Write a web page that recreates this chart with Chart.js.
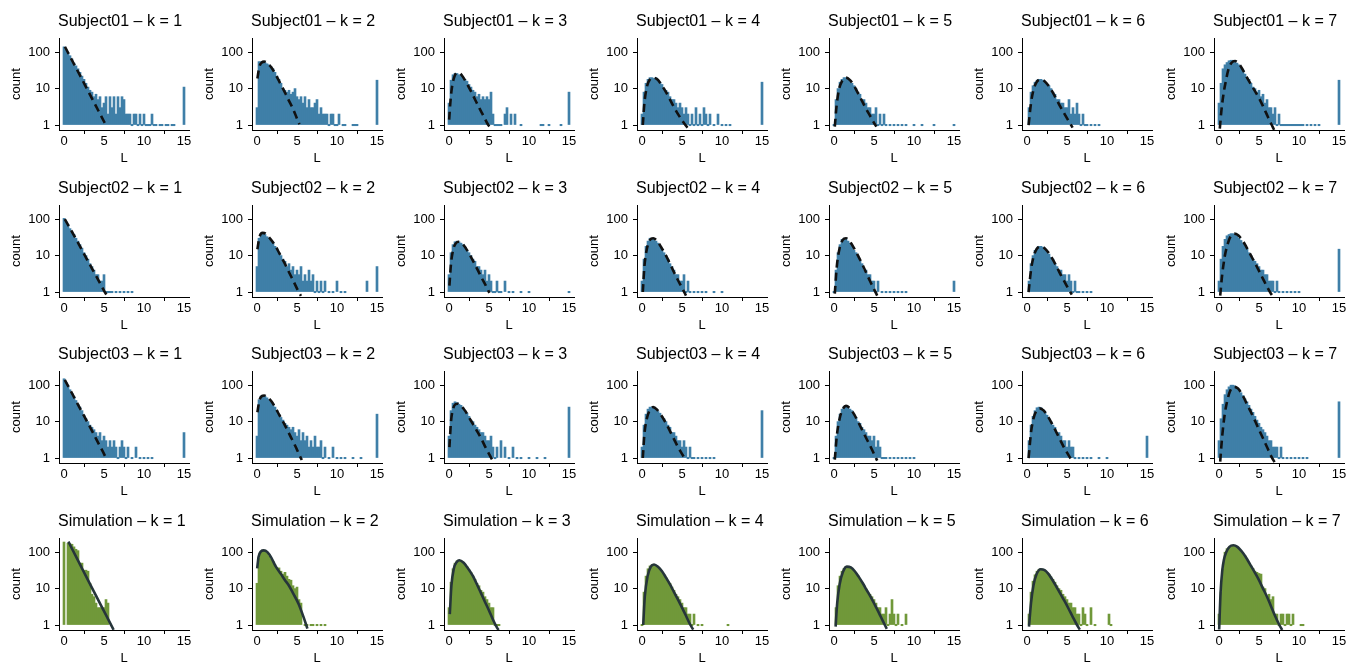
<!DOCTYPE html>
<html><head><meta charset="utf-8">
<script src="https://cdn.jsdelivr.net/npm/chart.js@4/dist/chart.umd.min.js"></script>
<style>
html,body{margin:0;padding:0;background:#fff;width:1348px;height:664px;overflow:hidden}
.panel{position:absolute;width:192px;height:166px}
.panel canvas{position:absolute;left:0;top:0}
.ttl{position:absolute;left:58px;top:12px;font:16px "Liberation Sans",Arial,sans-serif;color:#000;white-space:nowrap;line-height:18px}
</style></head><body>
<script>
// ---- data ----
const BINS = [0,0.25,0.5,0.75,1,1.25,1.5,1.75,2,2.25,2.5,2.75,3,3.25,3.5,3.75,4,4.25,4.5,4.75,5,5.25,5.5,5.75,6,6.25,6.5,6.75,7,7.25,7.5,7.75,8,8.25,8.5,8.75,9,9.25,9.5,9.75,10,10.25,10.5,10.75,11,11.25,11.5,11.75,12,12.25,12.5,12.75,13,13.25,13.5,13.75,14,14.25,14.5,14.75,15];
const X_TICKS = [0,5,10,15];
const Y_TICKS = [1,10,100];
const ROW_NAMES = ['Subject01','Subject02','Subject03','Simulation'];
const K_VALUES = [1,2,3,4,5,6,7];

const s01_k1 = [140,115,95,80, 65,50,42,35, 28,22,18,14, 11,9,8,6, 7,5,6,3, 4,6,2,6, 3,6,2,6, 3,6,5,2, 2,2,1,2, 2,1,2,1, 2,1,1,1, 2,1,1,0, 1,1,0,1, 1,0,1,1, 0,0,0,0, 11];
const s01_k2 = [3,55,55,55, 52,48,45,40, 35,28,22,18, 14,10,9,8, 9,7,8,10, 6,5,6,4, 6,3,5,3, 3,4,5,2, 3,2,2,2, 1,2,2,1, 1,2,0,1, 1,0,0,0, 1,1,1,0, 0,0,0,0, 0,0,0,0, 17];
const s01_k3 = [4,17,24,26, 26,24,24,20, 18,16,13,11, 9,8,6,7, 5,6,5,6, 5,8,2,1, 1,1,1,0, 2,3,0,2, 0,2,0,0, 1,0,0,0, 0,0,0,0, 0,0,1,1, 0,0,1,0, 0,0,0,0, 1,0,0,0, 8];
const s01_k4 = [2,8,14,18, 20,20,19,20, 17,15,13,10, 9,8,6,5, 5,4,3,4, 3,2,3,2, 1,2,1,3, 1,2,1,3, 2,1,2,0, 1,0,2,0, 1,0,1,0, 1,0,0,0, 0,0,0,0, 0,0,0,0, 0,0,0,0, 15];
const s01_k5 = [1,5,10,15, 18,20,20,18, 16,14,12,10, 8,7,5,5, 4,3,3,2, 2,3,1,2, 1,2,1,0, 1,0,1,0, 1,0,1,0, 1,0,0,0, 1,0,0,0, 1,0,0,0, 0,0,1,0, 0,0,0,0, 0,0,0,0, 1];
const s01_k6 = [0,3,8,12, 15,17,18,18, 17,15,13,12, 10,8,7,5, 5,4,4,3, 3,5,2,3, 2,4,2,1, 2,1,1,0, 1,0,1,0, 1,0,0,0, 0,0,0,0, 0,0,0,0, 0,0,0,0, 0,0,0,0, 0,0,0,0, 0];
const s01_k7 = [4,14,35,45, 52,58,60,60, 55,50,45,38, 32,25,20,18, 14,11,10,8, 9,6,7,4, 5,3,3,2, 3,1,2,1, 1,1,1,1, 1,1,1,1, 1,1,1,0, 1,0,1,0, 1,0,1,0, 0,0,0,0, 0,0,0,0, 17];

const s02_k1 = [105,85,70,55, 45,38,30,25, 20,16,12,10, 8,6,5,4, 3,3,2,2, 3,1,1,1, 1,0,1,0, 1,0,1,0, 1,0,1,0, 0,0,0,0, 0,0,0,0, 0,0,0,0, 0,0,0,0, 0,0,0,0, 0,0,0,0, 0];
const s02_k2 = [5,30,40,40, 38,33,30,25, 22,18,15,12, 10,8,7,5, 6,4,5,3, 4,3,5,2, 3,2,4,2, 3,1,2,1, 2,1,2,0, 1,0,1,0, 2,0,1,0, 1,0,0,0, 0,0,0,0, 0,0,0,2, 0,0,0,0, 5];
const s02_k3 = [3,12,20,24, 25,24,22,20, 17,14,12,10, 8,7,5,5, 4,3,4,2, 3,2,1,1, 2,1,1,0, 2,0,1,0, 1,0,0,0, 1,0,0,0, 1,0,0,0, 0,0,0,0, 0,0,0,0, 0,0,0,0, 0,0,0,0, 1];
const s02_k4 = [2,8,18,25, 30,30,28,25, 22,18,15,12, 10,8,6,5, 4,3,3,2, 2,3,1,2, 1,0,1,0, 1,0,1,0, 1,0,0,0, 1,0,0,0, 1,0,0,0, 0,0,0,0, 0,0,0,0, 0,0,0,0, 0,0,0,0, 0];
const s02_k5 = [1,4,12,20, 28,30,30,25, 22,18,14,12, 9,7,6,4, 4,3,3,2, 2,1,2,0, 1,0,1,0, 1,0,1,0, 1,0,1,0, 1,0,0,0, 0,0,0,0, 0,0,0,0, 0,0,0,0, 0,0,0,0, 0,0,0,0, 2];
const s02_k6 = [0,2,6,10, 14,16,18,18, 17,15,13,11, 9,8,6,5, 4,4,3,3, 2,3,2,1, 2,1,1,0, 1,0,1,0, 1,0,0,0, 0,0,0,0, 0,0,0,0, 0,0,0,0, 0,0,0,0, 0,0,0,0, 0,0,0,0, 0];
const s02_k7 = [2,8,18,28, 35,38,40,40, 38,35,30,26, 22,18,15,12, 10,8,7,6, 5,4,4,3, 3,2,2,2, 1,2,1,0, 1,0,1,0, 1,0,1,0, 1,0,0,0, 0,0,0,0, 0,0,0,0, 0,0,0,0, 0,0,0,0, 15];

const s03_k1 = [150,120,95,75, 60,48,38,30, 25,20,15,12, 10,8,7,6, 5,4,5,3, 4,3,2,3, 2,3,2,1, 2,3,2,1, 2,0,1,0, 2,0,1,0, 1,0,1,0, 1,0,0,0, 0,0,0,0, 0,0,0,0, 0,0,0,0, 5];
const s03_k2 = [4,40,50,52, 50,45,40,35, 30,25,20,16, 13,11,9,8, 7,6,7,5, 4,6,3,5, 3,4,2,3, 2,4,2,2, 3,1,2,0, 1,0,2,0, 1,0,1,0, 1,0,0,0, 1,0,0,0, 1,0,0,0, 0,0,0,0, 16];
const s03_k3 = [4,20,32,35, 33,30,28,24, 20,17,14,11, 10,8,7,6, 5,5,4,3, 3,4,2,1, 2,0,3,0, 2,0,1,0, 2,0,1,0, 1,0,0,0, 1,0,0,0, 1,0,0,0, 1,0,0,0, 0,0,0,0, 0,0,0,0, 25];
const s03_k4 = [2,8,16,22, 25,25,24,22, 19,17,14,12, 10,8,7,5, 5,4,3,3, 2,3,2,1, 2,1,1,0, 1,0,1,0, 1,0,1,0, 1,0,0,0, 0,0,0,0, 0,0,0,0, 0,0,0,0, 0,0,0,0, 0,0,0,0, 20];
const s03_k5 = [1,4,10,16, 22,26,28,26, 22,20,16,13, 10,9,7,6, 5,4,4,3, 4,2,3,2, 1,1,1,0, 1,0,1,0, 1,0,1,0, 1,0,1,0, 1,0,0,0, 0,0,0,0, 0,0,0,0, 0,0,0,0, 0,0,0,0, 0];
const s03_k6 = [0,3,8,14, 20,24,25,24, 21,18,15,12, 10,8,7,5, 5,4,3,3, 2,3,2,2, 1,0,1,0, 1,0,1,0, 1,0,0,0, 1,0,0,0, 1,0,0,0, 0,0,0,0, 0,0,0,0, 0,0,0,0, 0,0,0,0, 4];
const s03_k7 = [3,12,30,55, 75,90,100,100, 95,85,75,62, 52,42,35,28, 22,18,14,11, 9,7,6,5, 4,3,3,2, 2,2,1,2, 1,0,1,0, 1,0,1,0, 1,0,1,0, 1,0,0,0, 0,0,0,0, 0,0,0,0, 0,0,0,0, 35];

const sim_k1 = [190,0,175,170, 165,140,120,110, 50,50,32,32, 30,14,7,6, 4,3,3,3, 3,5,4,0, 0,0,0,0, 0,0,0,0, 0,0,0,0, 0,0,0,0, 0,0,0,0, 0,0,0,0, 0,0,0,0, 0,0,0,0, 0,0,0,0, 0];
const sim_k2 = [14,70,105,110, 105,95,80,65, 55,45,37,37, 30,25,28,22, 18,17,12,10, 11,5,4,0, 1,1,0,1, 1,0,1,0, 1,0,1,0, 0,0,0,0, 0,0,0,0, 0,0,0,0, 0,0,0,0, 0,0,0,0, 0,0,0,0, 0];
const sim_k3 = [3,15,35,50, 58,60,58,52, 45,40,33,28, 22,18,14,12, 9,8,6,5, 4,3,3,1, 1,1,0,0, 0,0,0,0, 0,0,0,0, 0,0,0,0, 0,0,0,0, 0,0,0,0, 0,0,0,0, 0,0,0,0, 0,0,0,0, 0];
const sim_k4 = [1,8,22,35, 42,45,45,42, 38,33,28,24, 20,16,14,11, 9,7,6,5, 4,3,3,2, 2,1,2,0, 1,0,1,0, 0,0,0,0, 0,0,0,0, 0,0,0,1, 0,0,0,0, 0,0,0,0, 0,0,0,0, 0,0,0,0, 0];
const sim_k5 = [0,3,12,22, 30,36,40,40, 38,35,30,26, 22,18,15,12, 10,8,7,6, 5,4,3,3, 2,2,3,1, 2,5,2,1, 2,0,1,0, 2,0,0,0, 0,0,0,0, 0,0,0,0, 0,0,0,0, 0,0,0,0, 0,0,0,0, 0];
const sim_k6 = [0,2,8,16, 24,30,34,35, 34,32,28,25, 21,18,15,12, 10,9,7,6, 5,4,4,3, 3,2,2,1, 3,2,1,0, 3,0,1,0, 0,0,0,0, 0,2,1,0, 0,0,0,0, 0,0,0,0, 0,0,0,0, 0,0,0,0, 0];
const sim_k7 = [2,8,35,100, 125,135,140,150, 145,135,120,105, 90,80,60,50, 42,36,30,28, 26,25,11,10, 6,7,5,6, 2,2,1,2, 2,1,2,2, 1,2,0,0, 0,1,1,0, 0,0,0,0, 0,0,0,0, 0,0,0,0, 0,0,0,0, 0];

// fitted density curves, [L, count]
const fit_s01_k1 = [[0.12,141],[1,60],[2,23],[3,8.7],[4,3.3],[5,1.25],[5.3,0.93]];
const fit_s01_k2 = [[0.05,19],[0.3,40],[0.6,52],[0.9,55],[1.3,50],[1.8,38],[2.3,25],[2.7,17],[3.2,10.5],[3.6,7],[4,4.6],[4.5,2.8],[5,1.5],[5.3,1.05]];
const fit_s01_k3 = [[0.02,1.4],[0.2,5],[0.4,12],[0.7,22],[1,27],[1.4,26],[1.8,20],[2.3,13],[2.8,8],[3.3,4.8],[3.8,2.9],[4.3,1.8],[4.8,1.1],[5.05,0.9]];
const fit_s01_k4 = [[0.1,1],[0.3,4],[0.6,11],[1,18],[1.4,20],[1.9,18],[2.4,13],[3,8],[3.5,5],[4,3.1],[4.5,2],[5,1.35],[5.5,0.95],[5.8,0.78]];
const fit_s01_k5 = [[0.1,0.9],[0.3,3],[0.6,9],[1,16],[1.5,20],[2,17],[2.5,12],[3,7.5],[3.5,4.6],[4,2.8],[4.5,1.8],[5,1.15],[5.3,0.9]];
const fit_s01_k6 = [[0.2,1],[0.5,4],[0.8,9],[1.2,15],[1.7,18],[2.2,16],[2.7,12],[3.2,8],[3.7,5],[4.2,3.1],[4.7,2],[5.2,1.3],[5.7,0.85]];
const fit_s01_k7 = [[0.1,0.8],[0.3,2.5],[0.6,8],[0.9,18],[1.2,35],[1.6,52],[2,57],[2.5,48],[3,32],[3.5,20],[4,13],[4.5,8.5],[5,5.5],[5.5,3.3],[6,1.9],[6.5,1.1],[6.9,0.73]];

const fit_s02_k1 = [[0.1,100],[1,45],[2,18],[3,7],[4,2.8],[5,1.1],[5.3,0.85]];
const fit_s02_k2 = [[0.05,15],[0.3,32],[0.7,42],[1.1,40],[1.6,30],[2.2,20],[2.8,11.5],[3.4,6.5],[4,3.5],[4.6,1.9],[5.2,1.02],[5.5,0.78]];
const fit_s02_k3 = [[0.05,1.5],[0.25,6],[0.5,14],[0.8,21],[1.2,24],[1.6,22],[2.1,16],[2.6,10.5],[3.1,6.5],[3.6,4],[4.1,2.4],[4.6,1.5],[5.05,0.95]];
const fit_s02_k4 = [[0.1,1],[0.3,5],[0.6,15],[1,27],[1.4,30],[1.9,25],[2.4,17],[3,10],[3.5,6],[4,3.5],[4.5,2.1],[5,1.3],[5.5,0.8]];
const fit_s02_k5 = [[0.1,0.9],[0.35,5],[0.7,16],[1.1,27],[1.5,30],[2,24],[2.5,16],[3,10],[3.5,6],[4,3.5],[4.5,2],[5,1.2],[5.4,0.8]];
const fit_s02_k6 = [[0.2,1],[0.5,4],[0.8,9],[1.2,15],[1.7,18],[2.2,16],[2.7,12],[3.2,8],[3.7,5],[4.2,3],[4.7,1.9],[5.2,1.2],[5.6,0.85]];
const fit_s02_k7 = [[0.15,0.8],[0.4,3],[0.7,9],[1,18],[1.4,32],[1.9,40],[2.4,36],[3,25],[3.5,16],[4,10],[4.5,6.2],[5,3.8],[5.5,2.3],[6,1.4],[6.5,0.9],[6.8,0.73]];

const fit_s03_k1 = [[0.1,140],[1,60],[2,23],[3,9],[4,3.4],[5,1.3],[5.3,0.95]];
const fit_s03_k2 = [[0.05,18],[0.3,38],[0.6,50],[0.9,52],[1.3,47],[1.8,36],[2.3,24],[2.8,15],[3.3,9.5],[3.8,5.8],[4.3,3.5],[4.8,2.1],[5.3,1.2],[5.6,0.88]];
const fit_s03_k3 = [[0.05,2],[0.25,10],[0.5,22],[0.8,30],[1.1,31],[1.5,27],[2,20],[2.5,13],[3,8.5],[3.5,5.5],[4,3.5],[4.5,2.1],[5,1.3],[5.4,0.9]];
const fit_s03_k4 = [[0.1,1],[0.3,4.5],[0.6,12],[1,21],[1.4,25],[1.9,21],[2.4,15],[3,9],[3.5,5.5],[4,3.3],[4.5,2],[5,1.3],[5.5,0.85]];
const fit_s03_k5 = [[0.1,0.9],[0.35,4],[0.7,12],[1.1,22],[1.5,27],[2,23],[2.5,16],[3,10],[3.5,6],[4,3.6],[4.5,2.2],[5,1.3],[5.4,0.85]];
const fit_s03_k6 = [[0.2,1],[0.5,5],[0.8,12],[1.2,20],[1.6,23],[2.1,20],[2.6,14],[3.1,9],[3.6,5.5],[4.1,3.3],[4.6,2],[5.1,1.3],[5.6,0.85]];
const fit_s03_k7 = [[0.15,0.8],[0.4,4],[0.7,15],[1,35],[1.4,70],[1.9,90],[2.4,80],[3,50],[3.5,30],[4,18],[4.5,10.5],[5,6],[5.5,3.5],[6,2],[6.5,1.15],[7,0.73]];

const fit_sim_k1 = [[0.55,195],[2,46],[3,17],[4,6.4],[5,2.4],[6.2,0.74]];
const fit_sim_k2 = [[0.02,36],[0.2,75],[0.5,105],[0.85,112],[1.3,100],[1.8,70],[2.3,42],[3,25],[3.5,17],[4,12],[4.5,7.5],[5.2,3.8],[5.8,1.7],[6.3,0.8]];
const fit_sim_k3 = [[0.1,2],[0.3,12],[0.6,35],[1,55],[1.3,60],[1.8,52],[2.3,38],[3,22],[3.5,13],[4,7.5],[4.5,4.3],[5,2.5],[5.5,1.4],[6,0.85],[6.2,0.73]];
const fit_sim_k4 = [[0.15,1],[0.35,6],[0.7,22],[1.1,40],[1.5,46],[2,40],[2.5,30],[3,20],[3.5,13],[4,8],[4.5,5],[5,3],[5.5,1.8],[6,1.05],[6.4,0.75]];
const fit_sim_k5 = [[0.2,0.9],[0.4,4],[0.7,13],[1.1,28],[1.6,40],[2.1,38],[2.6,30],[3.1,21],[3.6,14],[4.1,9],[4.6,5.8],[5.1,3.6],[5.6,2.2],[6.1,1.3],[6.6,0.78]];
const fit_sim_k6 = [[0.25,0.9],[0.5,4],[0.8,12],[1.2,25],[1.7,34],[2.2,32],[2.7,25],[3.2,17],[3.7,11],[4.2,7],[4.7,4.5],[5.2,2.8],[5.7,1.7],[6.2,1.05],[6.6,0.75]];
const fit_sim_k7 = [[0.02,0.75],[0.2,8],[0.4,30],[0.6,60],[0.9,100],[1.3,140],[1.8,155],[2.3,140],[3,95],[3.5,65],[4,42],[4.5,27],[5,17],[5.5,10],[6,6],[6.5,3.3],[7,1.8],[7.5,1.05],[7.9,0.73]];

// ---- tables built from the arrays ----
const COUNTS = [
  [s01_k1,s01_k2,s01_k3,s01_k4,s01_k5,s01_k6,s01_k7],
  [s02_k1,s02_k2,s02_k3,s02_k4,s02_k5,s02_k6,s02_k7],
  [s03_k1,s03_k2,s03_k3,s03_k4,s03_k5,s03_k6,s03_k7],
  [sim_k1,sim_k2,sim_k3,sim_k4,sim_k5,sim_k6,sim_k7]
];
const FITS = [
  [fit_s01_k1,fit_s01_k2,fit_s01_k3,fit_s01_k4,fit_s01_k5,fit_s01_k6,fit_s01_k7],
  [fit_s02_k1,fit_s02_k2,fit_s02_k3,fit_s02_k4,fit_s02_k5,fit_s02_k6,fit_s02_k7],
  [fit_s03_k1,fit_s03_k2,fit_s03_k3,fit_s03_k4,fit_s03_k5,fit_s03_k6,fit_s03_k7],
  [fit_sim_k1,fit_sim_k2,fit_sim_k3,fit_sim_k4,fit_sim_k5,fit_sim_k6,fit_sim_k7]
];

// ---- styling ----
const FONT = '"Liberation Sans", Arial, Helvetica, sans-serif';
const BAR_SUBJ = '#3f7fa8';
const BAR_SIM = '#70983a';
const FIT_SUBJ = '#111111';
const FIT_SIM = '#26353a';
const AXIS = '#000000';
const TEXT = '#000000';
const PANEL_W = 192, PANEL_H = 166, PITCH_X = 192.5, PITCH_Y = 166.7;

Chart.defaults.font.family = FONT;

ROW_NAMES.forEach((rowName, r) => {
  K_VALUES.forEach((k, c) => {
    const isSim = rowName === 'Simulation';
    const div = document.createElement('div');
    div.className = 'panel';
    div.style.left = Math.round(PITCH_X * c) + 'px';
    div.style.top = Math.round(PITCH_Y * r) + 'px';
    const cv = document.createElement('canvas');
    cv.width = PANEL_W; cv.height = PANEL_H;
    cv.style.width = PANEL_W + 'px'; cv.style.height = PANEL_H + 'px';
    div.appendChild(cv);
    const t = document.createElement('div');
    t.className = 'ttl';
    t.textContent = rowName + ' \u2013 k = ' + k;
    div.appendChild(t);
    document.body.appendChild(div);

    const counts = COUNTS[r][c];
    const fit = FITS[r][c];
    new Chart(cv, {
      type: 'bar',
      data: {
        datasets: [
          {
            type: 'line',
            data: fit.map(p => ({x: p[0], y: p[1]})),
            borderColor: isSim ? FIT_SIM : FIT_SUBJ,
            borderWidth: 2.6,
            borderDash: isSim ? [] : [8, 5],
            borderCapStyle: 'butt',
            pointRadius: 0,
            fill: false,
            cubicInterpolationMode: 'monotone',
            order: 0
          },
          {
            type: 'bar',
            data: BINS.map((b, i) => ({x: b, y: counts[i] > 0 ? counts[i] : null})),
            backgroundColor: isSim ? BAR_SIM : BAR_SUBJ,
            borderWidth: 0,
            barThickness: 2,
            base: 1,
            minBarLength: 1.4,
            grouped: false,
            order: 1
          }
        ]
      },
      options: {
        responsive: false,
        animation: false,
        devicePixelRatio: 1,
        events: [],
        layout: {padding: {left: 0, right: 3, top: 38, bottom: 0}},
        plugins: {legend: {display: false}, tooltip: {enabled: false}, title: {display: false}},
        scales: {
          x: {
            type: 'linear', min: -0.625, max: 15.625, offset: false, bounds: 'data',
            afterBuildTicks: s => { s.ticks = X_TICKS.map(v => ({value: v})); },
            afterFit: s => { s.height = 36; },
            ticks: {font: {size: 13, family: FONT}, color: TEXT, padding: 0, maxRotation: 0, autoSkip: false, callback: v => String(v)},
            grid: {display: true, drawOnChartArea: false, drawTicks: true, tickLength: 4, color: AXIS, tickWidth: 1},
            border: {display: true, color: AXIS, width: 1},
            title: {display: true, text: 'L', font: {size: 13, family: FONT}, color: TEXT, padding: 0}
          },
          y: {
            type: 'logarithmic', min: 0.73, max: 245, bounds: 'data',
            afterBuildTicks: s => { s.ticks = Y_TICKS.map(v => ({value: v})); },
            afterFit: s => { s.width = 59; },
            ticks: {font: {size: 13, family: FONT}, color: TEXT, padding: 5, autoSkip: false, callback: v => String(v)},
            grid: {display: true, drawOnChartArea: false, drawTicks: true, tickLength: 4, color: AXIS, tickWidth: 1},
            border: {display: true, color: AXIS, width: 1},
            title: {display: true, text: 'count', font: {size: 13, family: FONT}, color: TEXT, padding: {top: 9, bottom: 0}}
          }
        }
      }
    });
  });
});
</script>
</body></html>
